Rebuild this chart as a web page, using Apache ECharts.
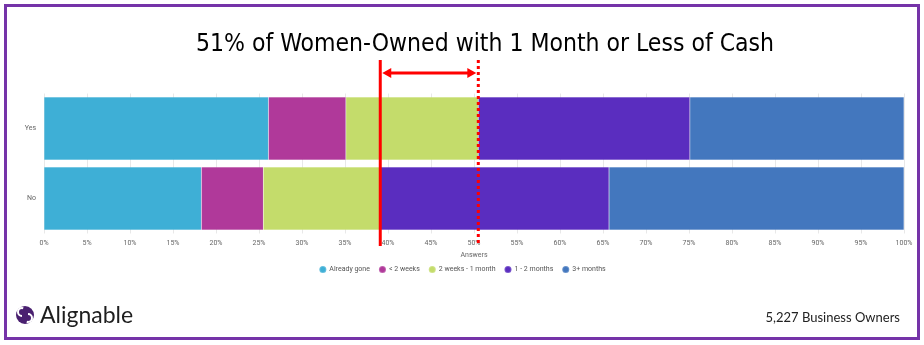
<!DOCTYPE html>
<html><head><meta charset="utf-8">
<script src="https://cdn.jsdelivr.net/npm/echarts@6/dist/echarts.min.js"></script>
<style>html,body{margin:0;padding:0;background:#fff}#c{width:924px;height:345px}</style>
</head><body><div id="c"></div>
<script>
// ---- data ----
const categories = ['Yes', 'No'];
const seriesNames = ['Already gone', '< 2 weeks', '2 weeks - 1 month', '1 - 2 months', '3+ months'];
const alreadyGone     = [26.1, 18.3];
const underTwoWeeks   = [9.0, 7.2];
const twoWeeksToMonth = [15.4, 13.6];
const oneToTwoMonths  = [24.6, 26.6];
const threePlusMonths = [24.9, 34.3];
const axisMin = 0, axisMax = 100, axisStep = 5;
const titleText = '51% of Women-Owned with 1 Month or Less of Cash';
const footerText = '5,227 Business Owners';
const brandText = 'Alignable';

const colors = ['#3eafd6', '#b0399a', '#c4dc6b', '#5a2dbf', '#4377be'];
const seriesData = [alreadyGone, underTwoWeeks, twoWeeksToMonth, oneToTwoMonths, threePlusMonths];

const chart = echarts.init(document.getElementById('c'), null, {renderer: 'canvas'});
const lab = {fontFamily: 'Roboto', fontSize: 7, color: '#666'};

chart.setOption({
  animation: false,
  color: colors,
  grid: {left: 44, right: 20, top: 93.5, height: 140, containLabel: false},
  xAxis: {
    type: 'value', min: axisMin, max: axisMax, interval: axisStep,
    axisLabel: Object.assign({formatter: '{value}%', margin: 6}, lab),
    axisLine: {show: false}, axisTick: {show: false},
    splitLine: {lineStyle: {color: '#e8e8e8', width: 1}},
    name: 'Answers', nameLocation: 'middle', nameGap: 18,
    nameTextStyle: Object.assign({}, lab)
  },
  yAxis: {
    type: 'category', data: categories, inverse: true,
    axisLabel: Object.assign({margin: 8}, lab),
    axisLine: {show: false}, axisTick: {show: false}
  },
  legend: {
    top: 260, left: 'center', icon: 'circle', itemWidth: 7, itemHeight: 7, itemGap: 8,
    textStyle: {fontFamily: 'Roboto', fontSize: 7, color: '#555', padding: [0, 0, 0, -2]},
    data: seriesNames
  },
  series: seriesNames.map((n, i) => ({
    name: n, type: 'bar', stack: 'total', data: seriesData[i],
    barCategoryGap: '10%',
    itemStyle: {borderColor: 'rgba(255,255,255,0.2)', borderWidth: 0.5}
  }))
});

// annotation derived from data
const cum3 = categories.map((c, k) => alreadyGone[k] + underTwoWeeks[k] + twoWeeksToMonth[k]);
const xSolid = chart.convertToPixel({xAxisIndex: 0}, cum3[1]);
const xDot = chart.convertToPixel({xAxisIndex: 0}, cum3[0]);
const red = '#ff0000';
const arrowY = 73;
const graphics = [
  {type: 'rect', shape: {x: 5.5, y: 5.5, width: 913, height: 333}, style: {fill: 'none', stroke: '#7533a8', lineWidth: 3}, z: 100},
  {type: 'text', x: 485, y: 45, style: {text: titleText, fontFamily: 'DejaVu Sans Condensed', fontSize: 24.5, fill: '#000', textAlign: 'center', textVerticalAlign: 'middle'}},
  {type: 'line', shape: {x1: xSolid, y1: 60, x2: xSolid, y2: 246}, style: {stroke: red, lineWidth: 3}, z: 50},
  {type: 'line', shape: {x1: xDot, y1: 60, x2: xDot, y2: 246}, style: {stroke: red, lineWidth: 3, lineDash: [3, 3]}, z: 50},
  {type: 'line', shape: {x1: xSolid + 6, y1: arrowY, x2: xDot - 6, y2: arrowY}, style: {stroke: red, lineWidth: 3}, z: 50},
  {type: 'polygon', shape: {points: [[xSolid + 2, arrowY], [xSolid + 11, arrowY - 5], [xSolid + 11, arrowY + 5]]}, style: {fill: red}, z: 50},
  {type: 'polygon', shape: {points: [[xDot - 2, arrowY], [xDot - 11, arrowY - 5], [xDot - 11, arrowY + 5]]}, style: {fill: red}, z: 50},
  // logo
  {type: 'circle', shape: {cx: 25, cy: 315, r: 9}, style: {fill: '#4a2070'}},
  {type: 'arc', shape: {cx: 22, cy: 312, r: 4, startAngle: Math.PI * 0.5, endAngle: Math.PI * 1.6}, style: {stroke: '#fff', lineWidth: 2, fill: 'none'}},
  {type: 'arc', shape: {cx: 28, cy: 318, r: 4, startAngle: -Math.PI * 0.5, endAngle: Math.PI * 0.6}, style: {stroke: '#fff', lineWidth: 2, fill: 'none'}},
  {type: 'text', x: 40, y: 316, style: {text: brandText, fontFamily: 'Lato', fontWeight: 'normal', fontSize: 23, fill: '#1e1e1e', textVerticalAlign: 'middle'}},
  {type: 'text', x: 900, y: 318, style: {text: footerText, fontFamily: 'Lato', fontSize: 13, fill: '#222', textAlign: 'right', textVerticalAlign: 'middle'}}
];
chart.setOption({graphic: graphics});
</script>
</body></html>
